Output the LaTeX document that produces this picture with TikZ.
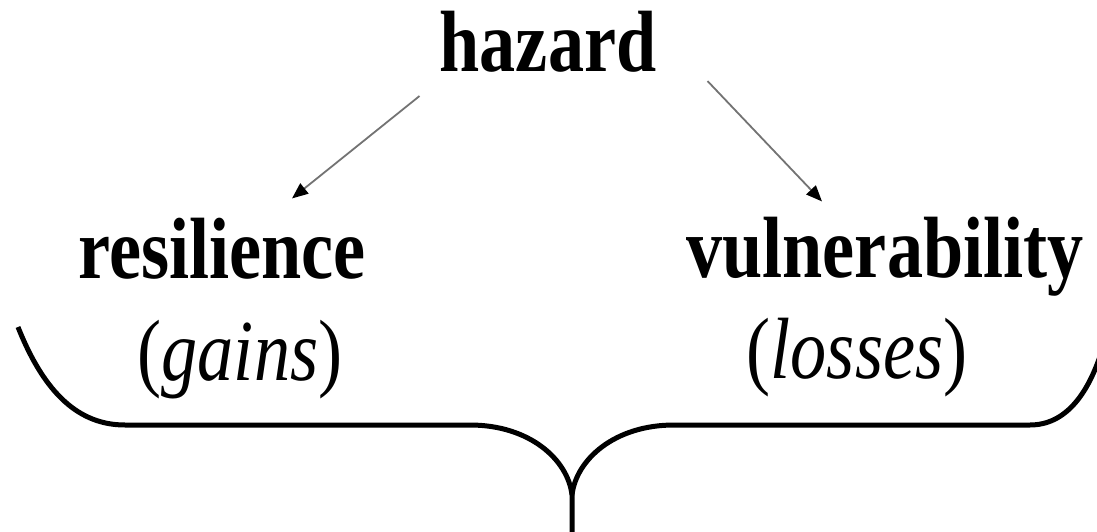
\documentclass[tikz,border=0pt]{standalone}
\usepackage{fontspec}
\setmainfont{Liberation Serif}[FakeStretch=0.83]
\usepackage{tikz}
\usetikzlibrary{arrows.meta,calc,positioning}
\tikzset{
word/.style={font=\fontsize{87}{100}\selectfont\bfseries,inner sep=0pt,anchor=base},
note/.style={font=\fontsize{87}{100}\selectfont,inner sep=0pt,anchor=base},
arc/.style={-{Triangle[black,length=16pt,width=13pt]},draw=black!55,line width=1.8pt},
brace/.style={line width=5pt,line cap=butt}
}

\begin{document}
\begin{tikzpicture}[x=1pt,y=-1pt]
			\useasboundingbox (0,0) rectangle (1097,532);
			\clip (0,0) rectangle (1097,532);
			
			%top and the two sides
			\node[word] (hazard) at (548,72) {hazard};
			\node[word] (resilience) at (222,278) {resilience};
			\node[word] (vulnerability) at (885,277) {vulnerability};
			\node[note] (gains) at (240,380) {(\textit{gains})};
			\node[note] (losses) at (857,378) {(\textit{losses})};
			
			%arrows
			\draw[arc] ([shift={(-20,23)}]hazard.south west) -- ([shift={(70,-19)}]resilience.north);
			\draw[arc] ([shift={(51,8)}]hazard.south east) -- ([shift={(-63,-15)}]vulnerability.north);
			
			%brace under both
			\coordinate (tip) at (572,495);
			\draw[brace] (18,327) .. controls (45,395) and (80,425) .. (125,425) -- (470,425)
				.. controls (530,425) and (568,460) .. (tip) -- (572,540);
			\draw[brace] (tip) .. controls (576,460) and (614,425) .. (674,425) -- (1030,425)
				.. controls (1065,425) and (1090,395) .. (1105,340);
			
\end{tikzpicture}
\end{document}
